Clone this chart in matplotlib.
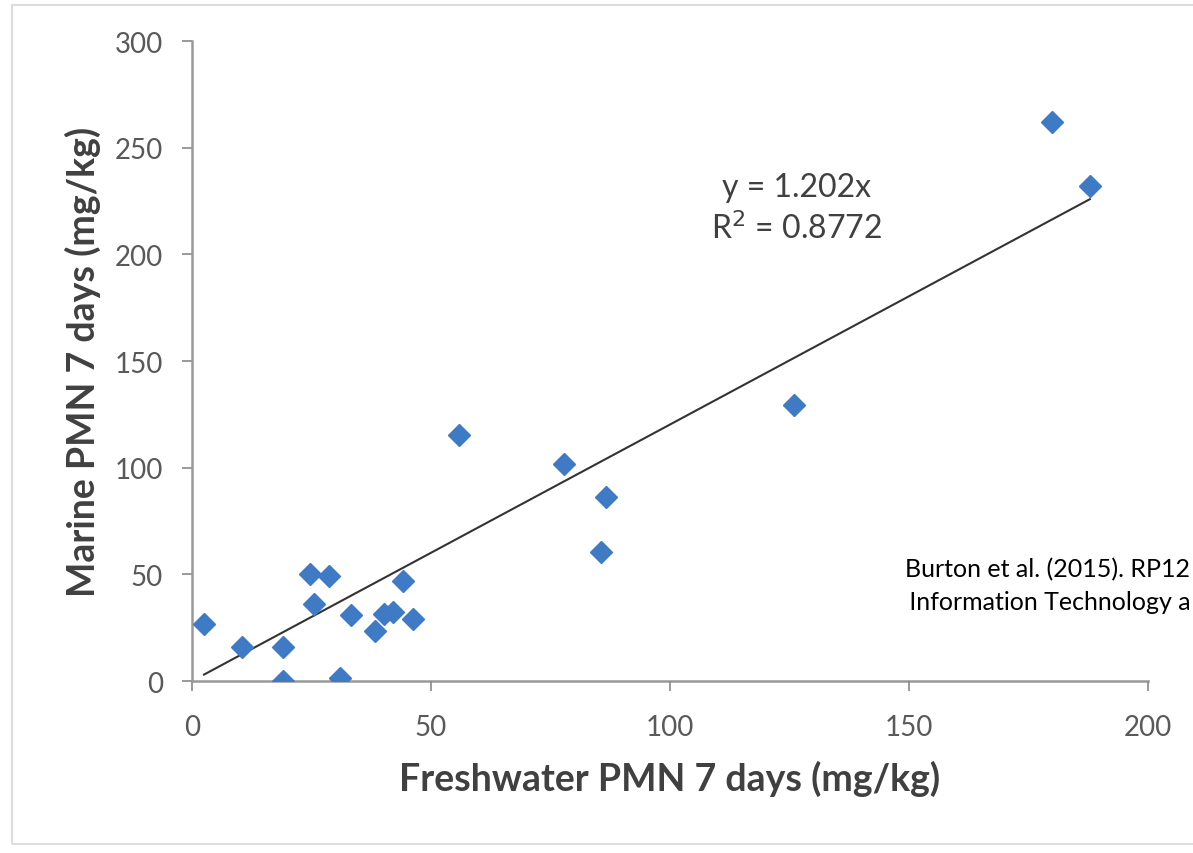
import matplotlib
matplotlib.use('Agg')
import matplotlib.pyplot as plt
import numpy as np
from matplotlib.patches import Rectangle

# freshwater vs marine PMN (mg/kg)
freshwater = [2.5, 10.5, 19, 19, 24.7, 25.5, 28.7, 31, 33.3, 38.3, 40.2, 42, 44.2, 46.3,
              55.9, 77.8, 85.6, 86.6, 126, 180, 187.9]
marine = [26.5, 16, 16, 0, 50, 36, 49, 1.5, 31, 23.5, 31.5, 32.5, 47, 29,
          115.5, 101.7, 60.5, 86.3, 129.5, 262, 232]
slope = 1.202
r_squared = 0.8772
x_ticks = [0, 50, 100, 150, 200]
y_ticks = [0, 50, 100, 150, 200, 250, 300]

plt.rcParams['font.family'] = ['Lato', 'DejaVu Sans']

fig = plt.figure(figsize=(11.93, 8.54), dpi=100)
ax = fig.add_axes([0.161, 0.2014, 0.801, 0.7494])

# trend line through origin, over the range of the data
fx = np.array([min(freshwater), max(freshwater)])
ax.plot(fx, slope * fx, color='#333333', lw=1.5, zorder=2)
ax.plot(freshwater, marine, 'D', color='#3f7bc4', markersize=11.5, mec='#3f7bc4', zorder=3)

ax.set_xlim(0, 200)
ax.set_ylim(0, 300)
ax.set_xticks(x_ticks)
ax.set_yticks(y_ticks)
ax.tick_params(direction='out', length=7, width=1.2, color='#888888',
               labelsize=20, labelcolor='#595959')
ax.tick_params(axis='y', pad=14)
ax.tick_params(axis='x', pad=17)
for s in ['top', 'right']:
    ax.spines[s].set_visible(False)
for s in ['left', 'bottom']:
    ax.spines[s].set_color('#999999')
    ax.spines[s].set_linewidth(1.8)
ax.spines['bottom'].set_zorder(1)

ax.set_xlabel('Freshwater PMN 7 days (mg/kg)', fontsize=27, fontweight='bold',
              color='#404040', labelpad=14)
ax.set_ylabel('Marine PMN 7 days (mg/kg)', fontsize=27, fontweight='bold',
              color='#404040', labelpad=10)

ax.text(126.6, 231.5, 'y = 1.202x', fontsize=23, color='#404040', ha='center', va='center')
ax.text(126.6, 212.5, 'R$^2$ = 0.8772', fontsize=23, color='#404040', ha='center', va='center')

# citation box, cut off at the right edge
fig.text(0.759, 0.333, 'Burton et al. (2015). RP12', fontsize=18, color='black',
         ha='left', va='center')
fig.text(0.757, 0.294, ' Information Technology a', fontsize=18, color='black',
         ha='left', va='center')

# light frame round the picture
fig.patches.append(Rectangle((0.01, 0.01), 1.1, 0.983, transform=fig.transFigure,
                             fill=False, edgecolor='#dddddd', lw=1.5))

plt.savefig('out.png', dpi=100)
